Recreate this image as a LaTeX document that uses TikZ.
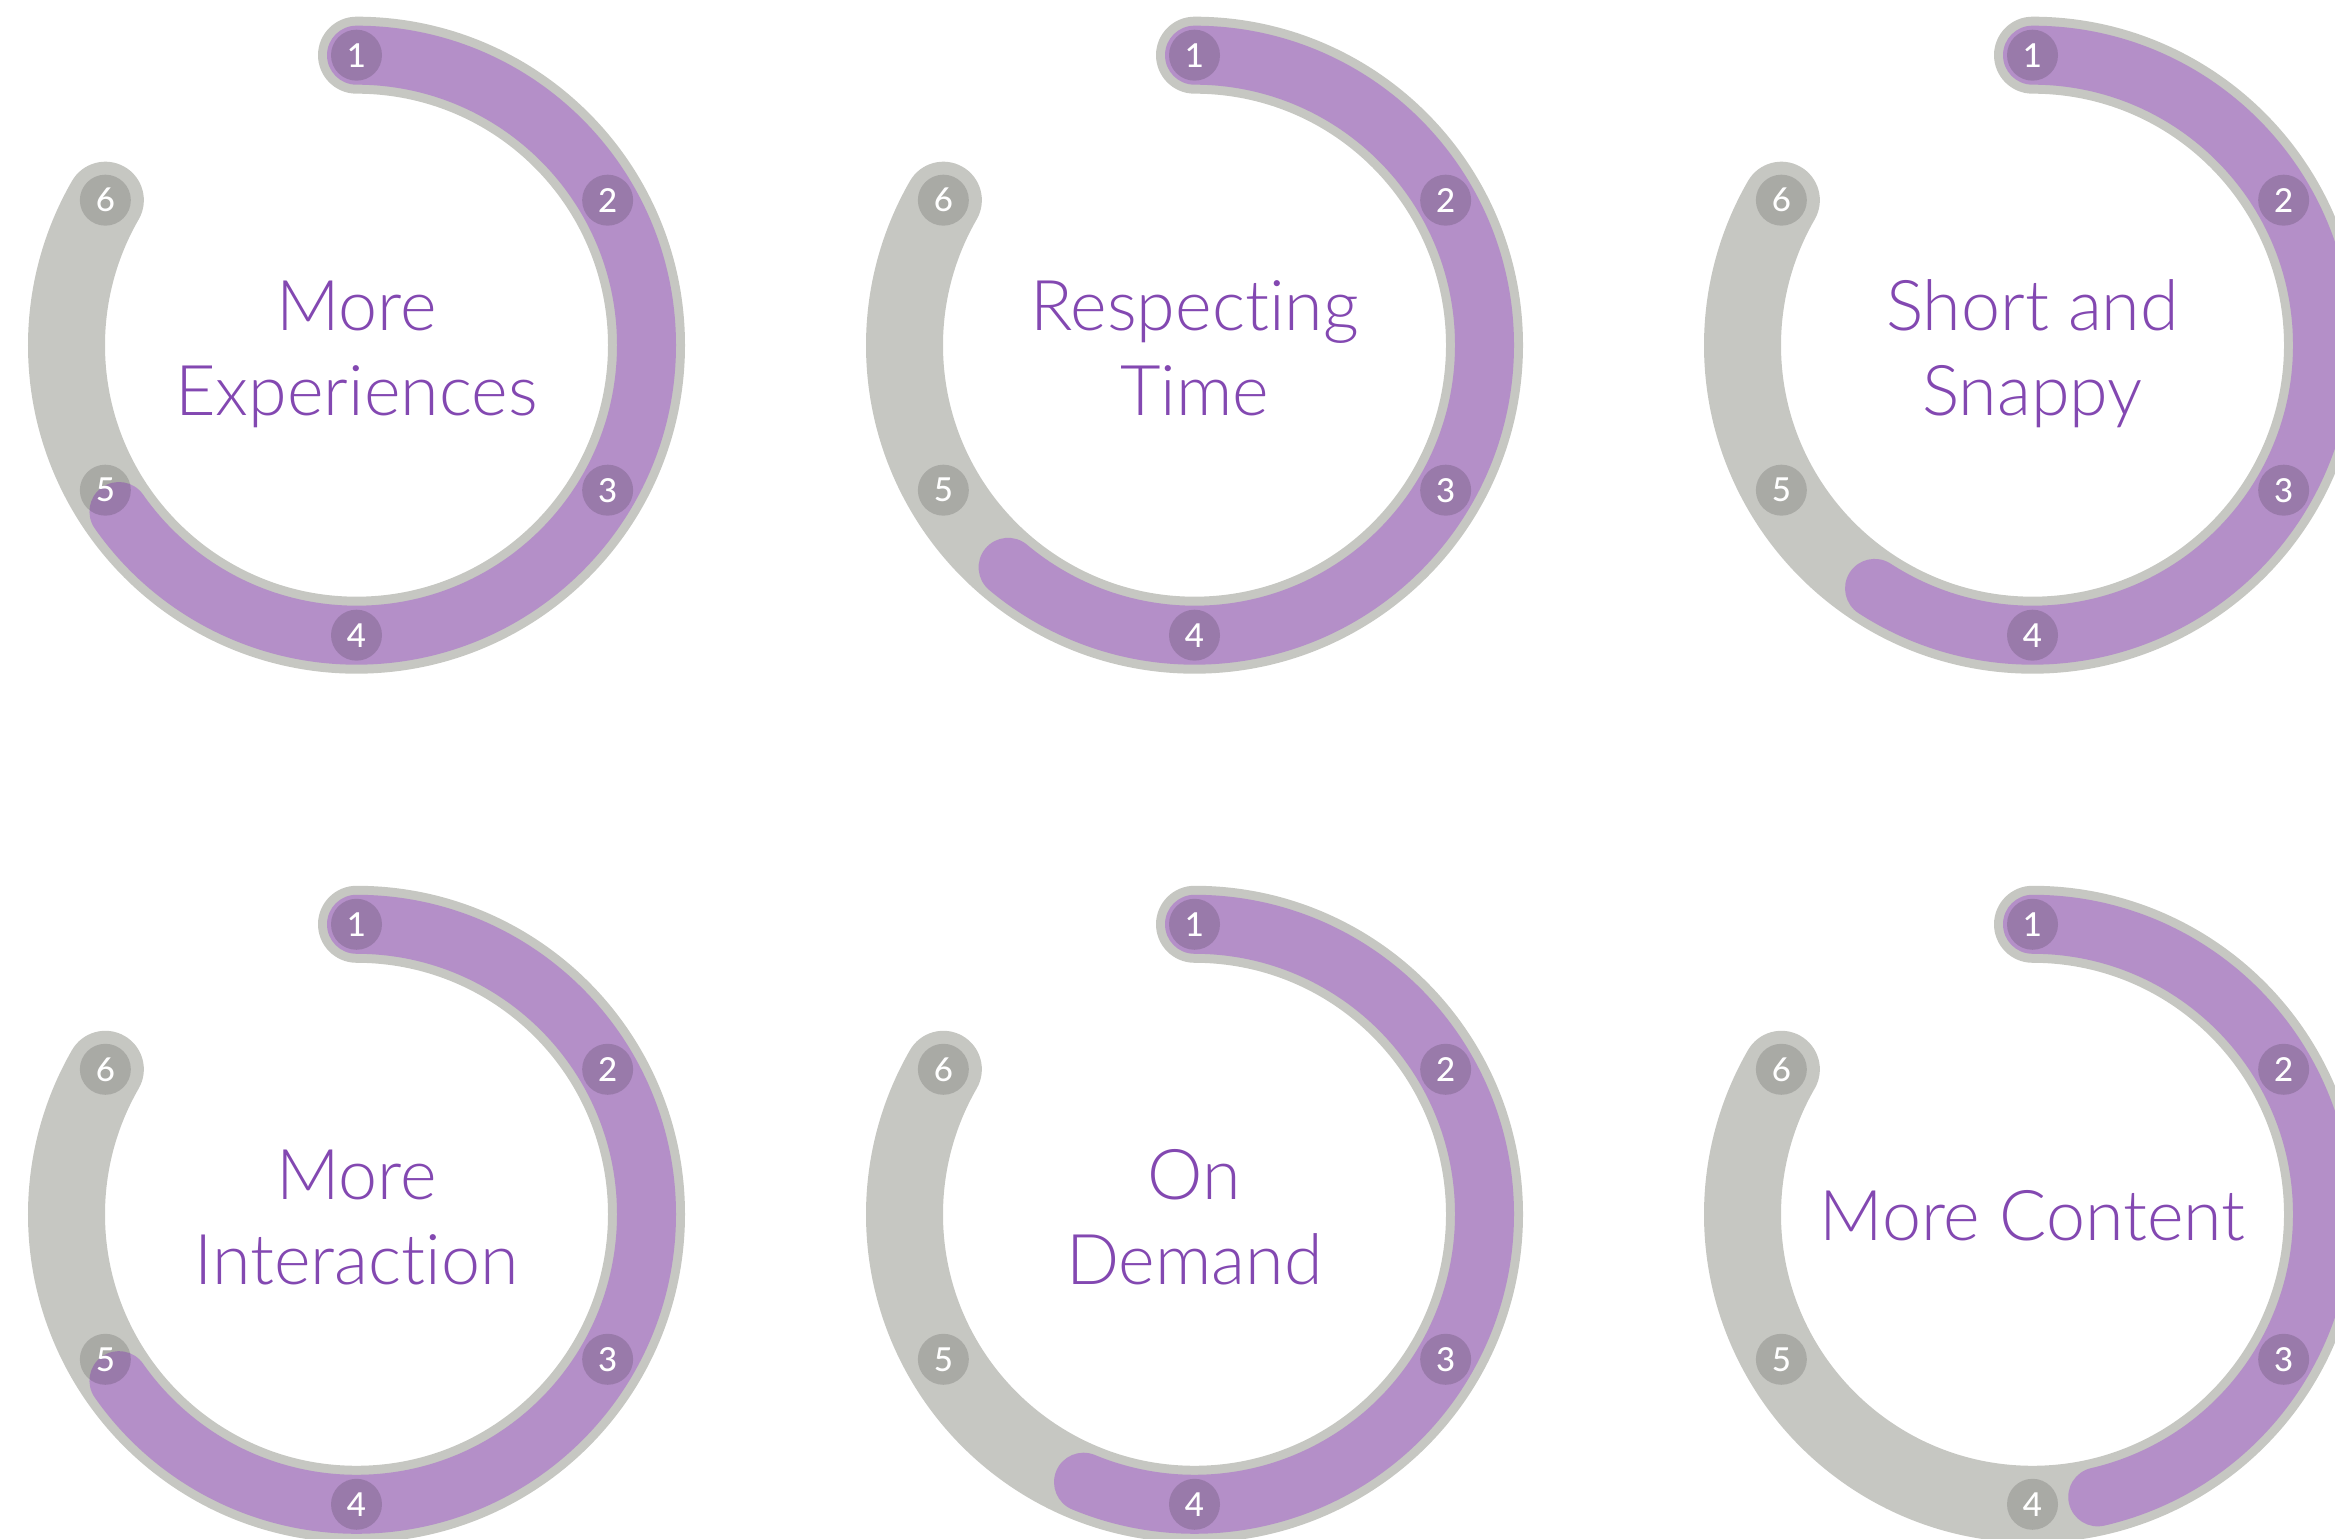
\documentclass[tikz,border=0pt]{standalone}
\usepackage{fontspec}
\newfontfamily\titlefont{Lato Light}[Ligatures={NoCommon,NoRare,NoDiscretionary}]
\newfontfamily\numfont{Lato Medium}
\definecolor{trackgray}{HTML}{C6C7C2}
\definecolor{barpurple}{HTML}{B48FC8}
\definecolor{titlepurple}{HTML}{8348B1}
\newcommand{\ringdiag}[4]{%
  \coordinate (#1c) at (#2,#3);
  \draw[track] ([shift={(90:290)}]#1c) arc[start angle=90,end angle=-210,radius=290];
  \draw[fillarc] ([shift={(90:290)}]#1c) arc[start angle=90,end angle=#4,radius=290];
  \foreach \k/\a in {1/90,2/30,3/-30,4/-90,5/-150,6/150}{
    \node[numdot] (#1n\k) at ([shift={(\a:290)}]#1c) {\k};
  }
}
\begin{document}
\begin{tikzpicture}[x=1pt,y=1pt,
  track/.style={line width=77pt,draw=trackgray,line cap=round},
  fillarc/.style={line width=59pt,draw=barpurple,line cap=round},
  numdot/.style={circle,fill=black,fill opacity=0.145,text opacity=1,text=white,
    minimum size=51pt,inner sep=0pt,font=\numfont\fontsize{33}{33}\selectfont},
  title/.style={anchor=base,inner sep=0pt,text=titlepurple,
    font=\titlefont\fontsize{70}{85}\selectfont}]
\clip (0,0) rectangle (2335,1539);
\ringdiag{ra}{356.5}{1193.8}{-145}
\ringdiag{rb}{1194.5}{1193.8}{-130}
\ringdiag{rc}{2032.5}{1193.8}{-123}
\ringdiag{rd}{356.5}{324.7}{-145}
\ringdiag{re}{1194.5}{324.7}{-112.5}
\ringdiag{rf}{2032.5}{324.7}{-77}
\node[title] (rata) at ([yshift=14.7pt]rac) {More};
\node[title] (ratb) at ([yshift=-70.4pt]rac) {Experiences};
\node[title] (rbta) at ([yshift=14.7pt]rbc) {Respecting};
\node[title] (rbtb) at ([yshift=-70.4pt]rbc) {Time};
\node[title] (rcta) at ([yshift=14.7pt]rcc) {Short and};
\node[title] (rctb) at ([yshift=-70.4pt]rcc) {Snappy};
\node[title] (rdta) at ([yshift=14.7pt]rdc) {More};
\node[title] (rdtb) at ([yshift=-70.4pt]rdc) {Interaction};
\node[title] (reta) at ([yshift=14.7pt]rec) {On};
\node[title] (retb) at ([yshift=-70.4pt]rec) {Demand};
\node[title] (rfta) at ([yshift=-26.7pt]rfc) {More Content};
\end{tikzpicture}
\end{document}
